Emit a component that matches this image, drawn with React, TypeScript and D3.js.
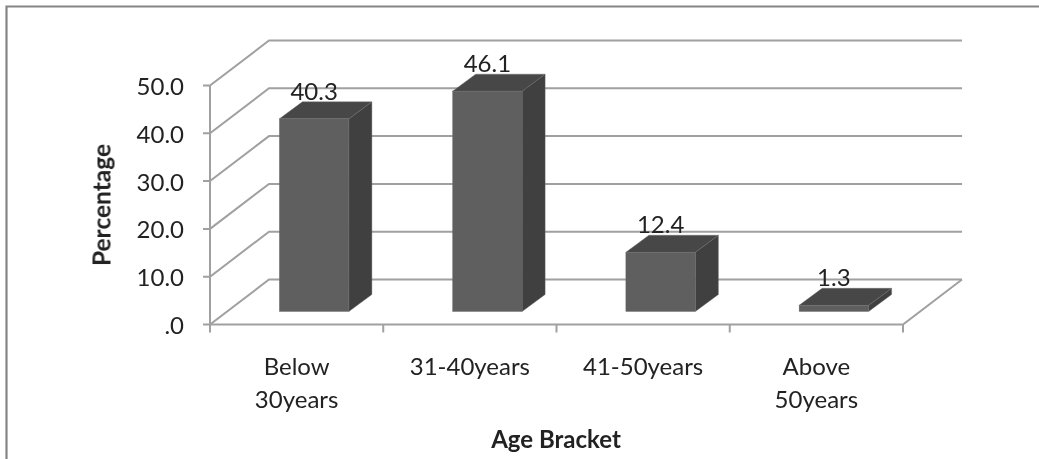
import React from "react";
import * as d3 from "d3";

const categories: string[][] = [["Below", "30years"], ["31-40years"], ["41-50years"], ["Above", "50years"]];
const values = [40.3, 46.1, 12.4, 1.3];
const valueLabels = ["40.3", "46.1", "12.4", "1.3"];
const yTicks = [0, 10, 20, 30, 40, 50];
const yTickLabels = [".0", "10.0", "20.0", "30.0", "40.0", "50.0"];

const W = 1039, H = 459;
const x0 = 210, x1 = 903, yBase = 324.5, yTop = 85.5;
const depthX = 59, depthY = 45;
const barShiftX = 17.5, barShiftY = 13;
const barDX = 23, barDY = 17;
const axisColor = "#a0a0a0";
const font = "Lato, 'Open Sans', sans-serif";

export default function App() {
  const y = d3.scaleLinear().domain([0, 50]).range([yBase, yTop]);
  const x = d3.scaleBand<number>().domain(d3.range(values.length)).range([x0, x1]).paddingInner(0.6).paddingOuter(0.3);
  const step = x.step();
  const bw = 69.5;
  const poly = (pts: number[][]) => pts.map((p) => p.join(",")).join(" ");
  return (
    <svg width={W} height={H} style={{ position: "fixed", left: 0, top: 0 }}>
      <defs>
        <filter id="soft" x="-5%" y="-5%" width="110%" height="110%">
          <feGaussianBlur stdDeviation="0.45" />
        </filter>
      </defs>
      <rect width={W} height={H} fill="#fff" />
      <g filter="url(#soft)">
        <path d={`M6.5,${H} V6.5 H${W}`} fill="none" stroke="#858585" strokeWidth={2.2} />
        {yTicks.map((t) => (
          <g key={t} stroke={axisColor} strokeWidth={2} fill="none">
            <path d={`M${x0 - 7},${y(t)} H${x0} L${x0 + depthX},${y(t) - depthY} H${x1 + depthX}`} />
          </g>
        ))}
        <path d={`M${x0},${y(50)} V${yBase}`} stroke={axisColor} strokeWidth={2} fill="none" />
        <path d={`M${x0},${yBase} H${x1} L${x1 + depthX},${yBase - depthY}`} stroke={axisColor} strokeWidth={2} fill="none" />
        {d3.range(values.length + 1).map((i) => (
          <path key={i} d={`M${x0 + i * step},${yBase} v8`} stroke={axisColor} strokeWidth={2} />
        ))}
        {values.map((v, i) => {
          const cx = (x(i) as number) + x.bandwidth() / 2 + barShiftX;
          const l = cx - bw / 2, r = cx + bw / 2;
          const b = yBase - barShiftY, t = y(v) - barShiftY;
          return (
            <g key={i} stroke="#6a6a6a" strokeWidth={0.4}>
              <polygon points={poly([[r, t], [r + barDX, t - barDY], [r + barDX, b - barDY], [r, b]])} fill="#404040" />
              <polygon points={poly([[l, t], [l + barDX, t - barDY], [r + barDX, t - barDY], [r, t]])} fill="#474747" />
              <rect x={l} y={t} width={bw} height={b - t} fill="#5f5f5f" />
            </g>
          );
        })}
      </g>
      <g fontFamily={font} fill="#222" fontSize={24} filter="url(#soft)">
        {values.map((v, i) => {
          const cx = (x(i) as number) + x.bandwidth() / 2 + barShiftX;
          return (
            <text key={i} x={cx} y={y(v) - barShiftY - 19} textAnchor="middle">{valueLabels[i]}</text>
          );
        })}
        {yTicks.map((t, i) => (
          <text key={t} x={x0 - 26} y={y(t) + 9.5} textAnchor="end">{yTickLabels[i]}</text>
        ))}
        {categories.map((lines, i) => (
          <text key={i} x={x0 + (i + 0.5) * step} textAnchor="middle">
            {lines.map((s, j) => (
              <tspan key={j} x={x0 + (i + 0.5) * step} y={375 + j * 32.5}>{s}</tspan>
            ))}
          </text>
        ))}
        <text x={556} y={448} textAnchor="middle" fontWeight={700}>Age Bracket</text>
        <text transform="translate(110.5,205) rotate(-90)" textAnchor="middle" fontWeight={700} fontSize={24.5}>Percentage</text>
      </g>
    </svg>
  );
}
